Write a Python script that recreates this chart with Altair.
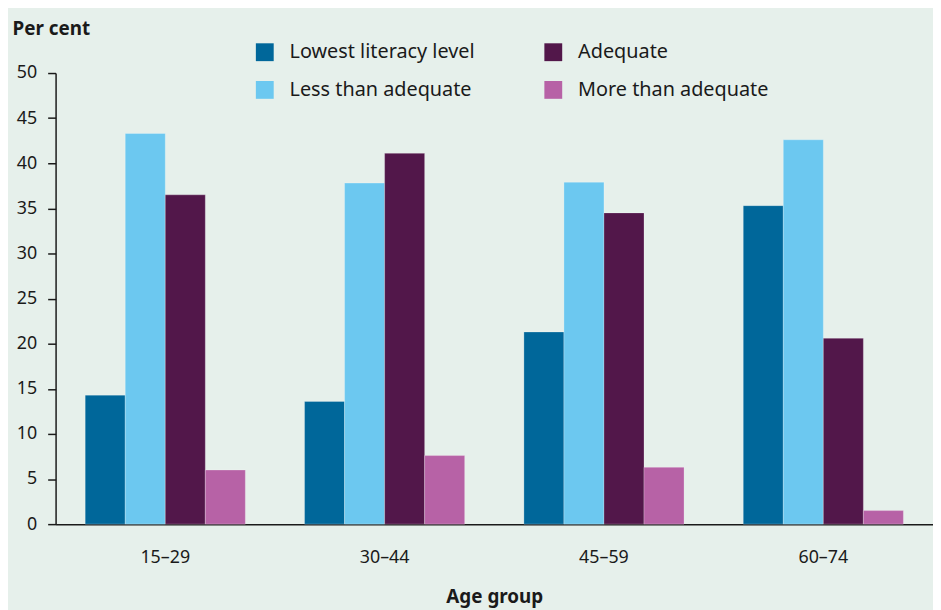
import altair as alt
import pandas as pd

groups = ["15–29", "30–44", "45–59", "60–74"]
series = ["Lowest literacy level", "Less than adequate", "Adequate", "More than adequate"]
lowest = [14.3, 13.6, 21.3, 35.3]
less_than = [43.3, 37.8, 37.9, 42.6]
adequate = [36.5, 41.1, 34.5, 20.6]
more_than = [6.0, 7.6, 6.3, 1.5]
y_ticks = [0, 5, 10, 15, 20, 25, 30, 35, 40, 45, 50]
colors = ["#00679a", "#6cc8f0", "#52174a", "#b762a6"]

rows = []
for i, g in enumerate(groups):
    for s, vals in zip(series, [lowest, less_than, adequate, more_than]):
        rows.append({"age": g, "level": s, "value": vals[i]})
df = pd.DataFrame(rows)

FONT = "Noto Sans"
TXT = "#1a1a1a"

chart = alt.Chart(df).mark_bar(stroke="#ffffff", strokeOpacity=0.25, strokeWidth=1).encode(
    x=alt.X(
        "age:N",
        sort=groups,
        scale=alt.Scale(paddingInner=0.27, paddingOuter=0.135),
        axis=alt.Axis(
            title="Age group", labelAngle=0, ticks=False, domainColor=TXT, domainWidth=1.5,
            labelFont=FONT, labelFontSize=18, labelColor=TXT, labelPadding=25,
            titleFont=FONT, titleFontSize=19, titleFontWeight="bold", titleColor=TXT,
            titleY=79, titleBaseline="alphabetic",
        ),
    ),
    xOffset=alt.XOffset("level:N", sort=series, scale=alt.Scale(paddingInner=0, paddingOuter=0)),
    y=alt.Y(
        "value:Q",
        scale=alt.Scale(domain=[0, 50], nice=False),
        axis=alt.Axis(
            values=y_ticks, grid=False, domainColor=TXT, domainWidth=1.5,
            tickColor=TXT, tickSize=8, tickWidth=1.5,
            labelFont=FONT, labelFontSize=18, labelColor=TXT, labelPadding=11,
            title="Per cent", titleAngle=0, titleX=-44, titleY=-45, titleAlign="left",
            titleBaseline="middle", titleFont=FONT, titleFontSize=19, titleFontWeight="bold",
            titleColor=TXT,
        ),
    ),
    color=alt.Color(
        "level:N",
        scale=alt.Scale(domain=series, range=colors),
        legend=alt.Legend(
            title=None, orient="none", legendX=201, legendY=-31, columns=2,
            symbolType="square", symbolSize=324, symbolStrokeWidth=0, labelOffset=15,
            labelFont=FONT, labelFontSize=20, labelColor=TXT, labelLimit=0, rowPadding=18,
            columnPadding=69, padding=0,
        ),
    ),
).properties(
    width=885, height=455,
    autosize=alt.AutoSizeParams(type="none"),
    padding={"left": 48, "top": 63, "right": 0, "bottom": 84},
).configure(
    background="#e6f0eb",
).configure_view(stroke=None)

chart.save("out.html", embed_options={"renderer": "svg", "actions": False})
